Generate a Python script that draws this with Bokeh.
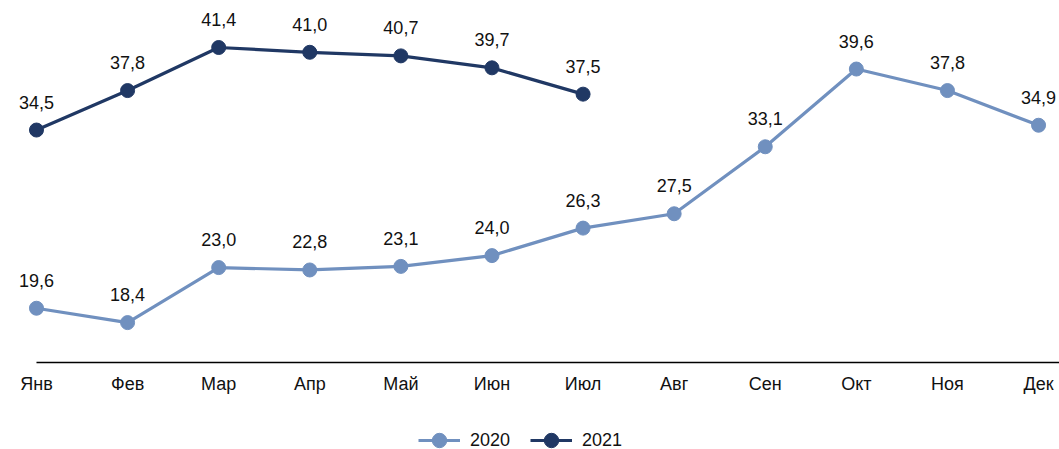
from bokeh.plotting import figure
from bokeh.models import Range1d, Legend, LegendItem, ColumnDataSource
from bokeh.embed import file_html
from bokeh.resources import INLINE
from bokeh.core.properties import value

months = ["Янв", "Фев", "Мар", "Апр", "Май", "Июн", "Июл", "Авг", "Сен", "Окт", "Ноя", "Дек"]
v2020 = [19.6, 18.4, 23.0, 22.8, 23.1, 24.0, 26.3, 27.5, 33.1, 39.6, 37.8, 34.9]
v2021 = [34.5, 37.8, 41.4, 41.0, 40.7, 39.7, 37.5]
axis_base = 15.06

C2020 = "#7090BF"
C2021 = "#203864"
FONT = "Liberation Sans"

p = figure(width=1059, height=449, output_backend="svg", toolbar_location=None,
           x_range=Range1d(-0.395, 11.23), y_range=Range1d(7.79, 45.33),
           x_axis_location=None, y_axis_location=None,
           min_border_left=0, min_border_right=0, min_border_top=0, min_border_bottom=0)
p.outline_line_color = None
p.grid.visible = False

x20 = list(range(len(v2020)))
x21 = list(range(len(v2021)))
s20 = ColumnDataSource(dict(x=x20, y=v2020, t=[f"{v:.1f}".replace(".", ",") for v in v2020]))
s21 = ColumnDataSource(dict(x=x21, y=v2021, t=[f"{v:.1f}".replace(".", ",") for v in v2021]))
sm = ColumnDataSource(dict(x=x20, y=[axis_base] * len(x20), t=months))

# baseline axis line from first month to right edge
p.segment(x0=[x20[0]], y0=[axis_base], x1=[p.x_range.end], y1=[axis_base], line_color="black", line_width=1.5)
p.text("x", "y", text="t", source=sm, text_align="center", text_baseline="middle",
       y_offset=21, text_font=value(FONT), text_font_size="18px", text_color="#111111")

l20 = p.line("x", "y", source=s20, line_color=C2020, line_width=3.2)
c20 = p.scatter("x", "y", source=s20, size=14, color=C2020)
l21 = p.line("x", "y", source=s21, line_color=C2021, line_width=3.2)
c21 = p.scatter("x", "y", source=s21, size=14, color=C2021)

for s in (s20, s21):
    p.text("x", "y", text="t", source=s, text_align="center", text_baseline="middle",
           y_offset=-28, text_font=value(FONT), text_font_size="18px", text_color="#111111")

legend = Legend(items=[LegendItem(label="2020", renderers=[l20, c20]),
                       LegendItem(label="2021", renderers=[l21, c21])],
                orientation="horizontal", location=(418, -9),
                label_text_font=FONT, label_text_font_size="18px", label_text_color="#111111",
                glyph_width=42, glyph_height=36, spacing=20, label_standoff=10,
                padding=0, margin=0,
                border_line_color=None, background_fill_alpha=0)
p.add_layout(legend)

open("out.html", "w").write(file_html(p, INLINE))
